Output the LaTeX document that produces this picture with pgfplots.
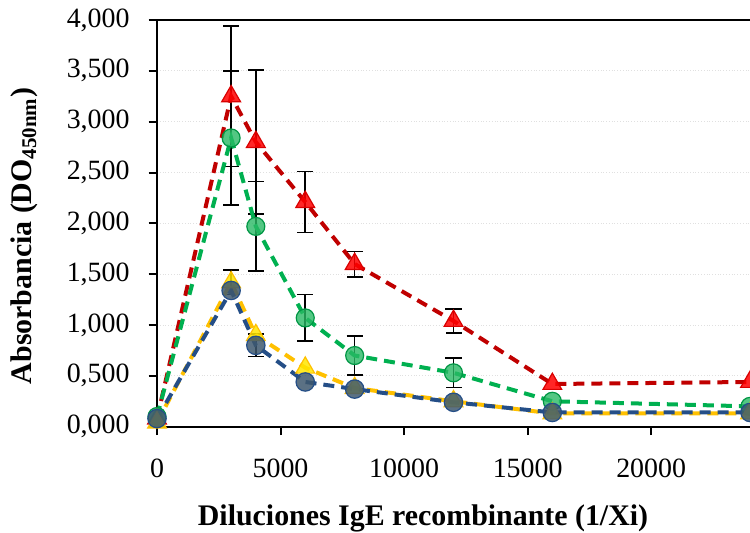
\documentclass[border=0pt]{standalone}
\usepackage{fontspec}
\setmainfont{Liberation Serif}
\usepackage{pgfplots}
\usepackage{pgfplotstable}
\pgfplotsset{compat=1.18}
\definecolor{redline}{RGB}{192,0,0}
\definecolor{redfill}{RGB}{255,0,0}
\definecolor{greenline}{RGB}{0,176,80}
\definecolor{greenfill}{RGB}{40,185,100}
\definecolor{yellowline}{RGB}{255,192,0}
\definecolor{yellowfill}{RGB}{255,230,0}
\definecolor{blueline}{RGB}{36,78,135}
\definecolor{bluefill}{RGB}{62,88,110}

\pgfplotstableread{
x y e
0 0.08 0
3000 3.25 0.69
4000 2.80 0.71
6000 2.21 0.30
8000 1.60 0.125
12000 1.04 0.12
16000 0.42 0
24000 0.44 0
}\red
\pgfplotstableread{
x y e
0 0.10 0
3000 2.84 0.66
4000 1.97 0.44
6000 1.07 0.23
8000 0.70 0.19
12000 0.53 0.145
16000 0.25 0
24000 0.20 0
}\green
\pgfplotstableread{
x y e
0 0.04 0
3000 1.42 0.12
4000 0.90 0
6000 0.58 0
8000 0.38 0
12000 0.25 0
16000 0.13 0
24000 0.13 0
}\yellow
\pgfplotstableread{
x y e
0 0.08 0
3000 1.34 0
4000 0.80 0.11
6000 0.44 0
8000 0.37 0
12000 0.24 0
16000 0.14 0
24000 0.14 0
}\blue
\pgfplotstableread{
x y e
3000 3.25 0.69
4000 2.80 0.71
6000 2.21 0.30
8000 1.60 0.125
12000 1.04 0.12
3000 2.84 0.66
4000 1.97 0.44
6000 1.07 0.23
8000 0.70 0.19
12000 0.53 0.145
3000 1.42 0.12
4000 0.80 0.11
}\errs

\begin{document}
\begin{tikzpicture}
\path[use as bounding box] (0,0) rectangle (375bp,266.5bp);
\begin{axis}[
  at={(78.5bp,53.15bp)}, anchor=south west,
  scale only axis, width=296.5bp, height=203.35bp,
  xmin=0, xmax=24000, ymin=0, ymax=4,
  axis x line*=box, axis y line*=left,
  xtick={0,5000,10000,15000,20000},
  ytick={0,0.5,1,1.5,2,2.5,3,3.5,4},
  tick align=outside, xtick pos=bottom, ytick pos=left,
  major tick length=4.2bp,
  every tick/.style={black, line width=1bp},
  axis line style={black, line width=1bp},
  ymajorgrids, major grid style={densely dotted, black!12, line width=0.5bp},
  scaled x ticks=false, scaled y ticks=false,
  /pgf/number format/assume math mode=true,
  tick label style={font=\fontsize{14}{16}\selectfont},
  xticklabel style={/pgf/number format/1000 sep={}, yshift=-8.5bp},
  yticklabel style={/pgf/number format/fixed, /pgf/number format/fixed zerofill, /pgf/number format/precision=3, /pgf/number format/use comma, xshift=-6bp},
  xlabel={Diluciones IgE recombinante (1/Xi)},
  xlabel style={at={(axis description cs:0.4486,-0.2245)}, anchor=center, font=\fontsize{15}{18}\selectfont\bfseries},
  ylabel={Absorbancia (DO\textsubscript{450nm})},
  ylabel style={at={(axis description cs:-0.2234,0.469)}, anchor=center, font=\fontsize{15}{18}\selectfont\bfseries},
  clip=false,
]
\addplot[draw=none, mark=none, forget plot, error bars/.cd, y dir=both, y explicit,
  error bar style={draw=black, line width=0.8bp, solid},
  error mark=-,
  error mark options={rotate=90, draw=black, mark size=4bp, line width=0.8bp, solid}]
  table[x=x, y=y, y error=e] {\errs};

\pgfplotsset{every axis plot/.append style={line width=2bp, dash pattern=on 5.5bp off 3.5bp}}
\addplot[redline, mark=triangle*, mark size=5.4bp,
  mark options={solid, fill=redfill, fill opacity=0.85, draw=redfill!85!black, line width=0.6bp}]
  table[x=x, y=y] {\red};
\addplot[greenline, mark=*, mark size=4.5bp,
  mark options={solid, fill=greenfill, fill opacity=0.8, draw=greenline!85!black, line width=0.6bp}]
  table[x=x, y=y] {\green};
\addplot[yellowline, mark=triangle*, mark size=5.4bp,
  mark options={solid, fill=yellowfill, fill opacity=0.85, draw=yellowline, line width=0.6bp}]
  table[x=x, y=y] {\yellow};
\addplot[blueline, mark=*, mark size=4.6bp,
  mark options={solid, fill=bluefill, fill opacity=0.85, draw=blueline, line width=0.6bp}]
  table[x=x, y=y] {\blue};
\end{axis}
\end{tikzpicture}
\end{document}
